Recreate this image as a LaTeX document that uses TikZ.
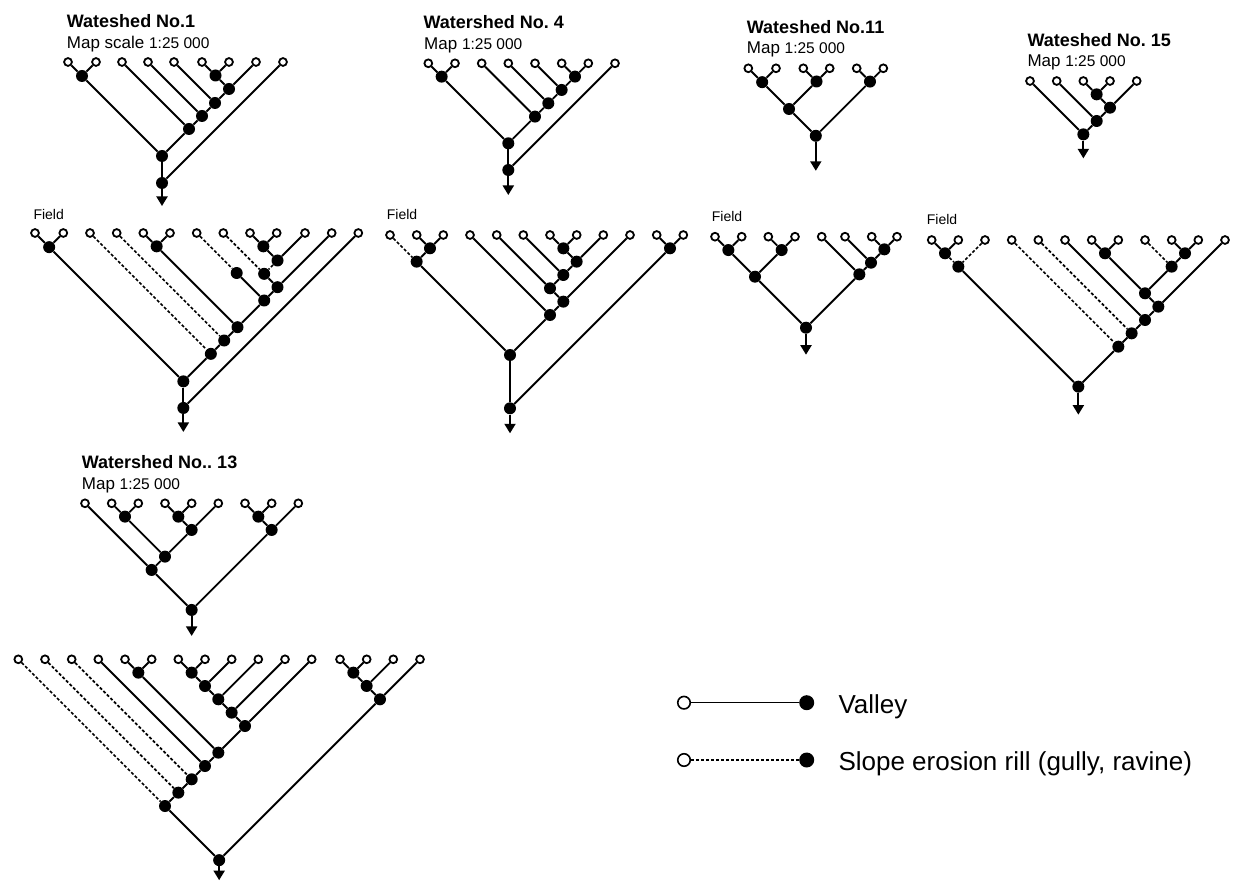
\documentclass[tikz,border=0pt]{standalone}
\usepackage{fontspec}
\setmainfont{Liberation Sans}
\usetikzlibrary{calc,arrows.meta}
\frenchspacing
\tikzset{
  onode/.style={circle,draw,fill=white,line width=1.8pt,inner sep=0pt,minimum size=7.8pt},
  fnode/.style={circle,fill=black,inner sep=0pt,minimum size=12pt},
  vl/.style={line width=1.9pt},
  rl/.style={line width=1.7pt,dash pattern=on 3pt off 2pt},
  arr/.style={line width=1.9pt,-{Triangle[width=11pt,length=9.5pt]}},
  ttl/.style={anchor=base west,inner sep=0pt,font=\fontsize{18}{20}\selectfont\bfseries},
  sub/.style={anchor=base west,inner sep=0pt,font=\fontsize{17}{20}\selectfont},
  fld/.style={anchor=base west,inner sep=0pt,font=\fontsize{14}{16}\selectfont},
  lgt/.style={anchor=base west,inner sep=0pt,font=\fontsize{26}{28}\selectfont},
  lo/.style={circle,draw,fill=white,line width=1.6pt,inner sep=0pt,minimum size=12.5pt},
  lf/.style={circle,fill=black,inner sep=0pt,minimum size=15pt},
  lgl/.style={line width=1.4pt},
  lgd/.style={line width=1.4pt,dash pattern=on 3pt off 2pt},
}
\newcommand\dg[1]{{\fontsize{15.5}{18}\selectfont #1}}
\newcommand\wleaves[3]{\foreach \xx [count=\wi] in {#3} {\node[onode] (#1\wi) at (\xx,#2) {};}}
\newcommand\wjx[5]{%
  \path let \p1=(#2.center), \p2=(#3.center), \n1={((\x2-\x1)+(\y1-\y2))/2} in
    node[fnode] (#1) at ({\x1+\n1},{\y1-\n1}) {};
  \draw[#4] (#2) -- (#1);
  \draw[#5] (#3) -- (#1);}
\newcommand\wjn[3]{\wjx{#1}{#2}{#3}{vl}{vl}}
\newcommand\wvj[3]{%
  \path let \p1=(#2.center), \p2=(#3.center) in
    node[fnode] (#1) at (\x1,{\y2-(\x2-\x1)}) {};
  \draw[vl] (#2) -- (#1);
  \draw[vl] (#3) -- (#1);}
\newcommand\wmd[4]{%
  \path let \p1=(#2.center) in node[fnode] (#1) at ({\x1+#3pt},{\y1-#3pt}) {};
  \draw[#4] (#2) -- (#1);}
\newcommand\wout[3]{%
  \path let \p1=(#2.center) in coordinate (#1) at (\x1,{\y1-#3pt});
  \draw[arr] (#2) -- (#1);}
\begin{document}
\begin{tikzpicture}[x=1pt,y=-1pt]
\useasboundingbox (0,0) rectangle (1233,882);

% ---------- titles ----------
\node[ttl] (t1) at (66.7,28) {Wateshed No.1};
\node[sub] (s1) at (66.7,48.3) {Map scale \dg{1:25 000}};
\node[ttl] (t4) at (423.3,28.3) {Watershed No. 4};
\node[sub] (s4) at (424,49.3) {Map \dg{1:25 000}};
\node[ttl] (t11) at (746.7,33.3) {Wateshed No.11};
\node[sub] (s11) at (746.7,54) {Map \dg{1:25 000}};
\node[ttl] (t15) at (1027.3,46.7) {Wateshed No. 15};
\node[sub] (s15) at (1027.3,66.7) {Map \dg{1:25 000}};
\node[ttl] (t13) at (81.7,468.3) {Watershed No.. 13};
\node[sub] (s13) at (81.7,489) {Map \dg{1:25 000}};

\node[fld] (f1) at (33.3,219.3) {Field};
\node[fld] (f4) at (386.7,220) {Field};
\node[fld] (f11) at (711.7,221.7) {Field};
\node[fld] (f15) at (926.7,224.3) {Field};

% ---------- Watershed 1, map ----------
\wleaves{A}{62}{68,96,122,148,174,202,229,256,283}
\wjn{Aa}{A1}{A2}
\wjn{Ab}{A6}{A7}
\wjn{Ac}{Ab}{A8}
\wjn{Ad}{A5}{Ac}
\wjn{Ae}{A4}{Ad}
\wjn{Af}{A3}{Ae}
\wjn{Ag}{Aa}{Af}
\wvj{Ah}{Ag}{A9}
\wout{Ao}{Ah}{23}

% ---------- Watershed 1, field ----------
\wleaves{B}{233}{35,63.3,90,116.7,143.3,170,196.7,223.3,250,276.7,305,331.7,358.3}
\wjn{Ba}{B1}{B2}
\wjn{Bb}{B5}{B6}
\wjn{Bc}{B9}{B10}
\wjn{Bd}{Bc}{B11}
\wjx{Be}{B8}{Bd}{rl}{rl}
\wjn{Bg}{Be}{B12}
\wmd{Bf}{B7}{40}{rl}
\wjn{Bh}{Bf}{Bg}
\wjn{Bi}{Bb}{Bh}
\wjx{Bj}{B4}{Bi}{rl}{vl}
\wjx{Bk}{B3}{Bj}{rl}{vl}
\wjn{Bl}{Ba}{Bk}
\wvj{Bm}{Bl}{B13}
\wout{Bo}{Bm}{24}

% ---------- Watershed 4, map ----------
\wleaves{C}{63.3}{428.3,455,481.7,508.3,535,561.7,588.3,615}
\wjn{Ca}{C1}{C2}
\wjn{Cb}{C6}{C7}
\wjn{Cc}{C5}{Cb}
\wjn{Cd}{C4}{Cc}
\wjn{Ce}{C3}{Cd}
\wjn{Cf}{Ca}{Ce}
\wvj{Cg}{Cf}{C8}
\wout{Co}{Cg}{25}

% ---------- Watershed 4, field ----------
\wleaves{D}{235}{390,416.7,443.3,470,496.7,523.3,550,576.7,603.3,630,656.7,683.3}
\wjn{Da}{D2}{D3}
\wjx{Db}{D1}{Da}{rl}{vl}
\wjn{Dc}{D7}{D8}
\wjn{Dd}{Dc}{D9}
\wjn{De}{D6}{Dd}
\wjn{Df}{D5}{De}
\wjn{Dg}{Df}{D10}
\wjn{Dh}{D4}{Dg}
\wjn{Di}{Db}{Dh}
\wjn{Dj}{D11}{D12}
\wvj{Dk}{Di}{Dj}
\wout{Do}{Dk}{25}

% ---------- Watershed 11, map ----------
\wleaves{E}{68.3}{748.3,776,803.3,829.7,856.7,883.3}
\wjn{Ea}{E1}{E2}
\wjn{Eb}{E3}{E4}
\wjn{Ec}{Ea}{Eb}
\wjn{Ed}{E5}{E6}
\wjn{Ee}{Ec}{Ed}
\wout{Eo}{Ee}{35}

% ---------- Watershed 11, field ----------
\wleaves{F}{236.7}{715,741.7,768.3,795,821.7,845,871.7,897}
\wjn{Fa}{F1}{F2}
\wjn{Fb}{F3}{F4}
\wjn{Fc}{Fa}{Fb}
\wjn{Fd}{F7}{F8}
\wjn{Fe}{F6}{Fd}
\wjn{Ff}{F5}{Fe}
\wjn{Fg}{Fc}{Ff}
\wout{Fo}{Fg}{27}

% ---------- Watershed 15, map ----------
\wleaves{G}{81}{1030,1056.7,1083.3,1110,1136.7}
\wjn{Ga}{G3}{G4}
\wjn{Gb}{Ga}{G5}
\wjn{Gc}{G2}{Gb}
\wjn{Gd}{G1}{Gc}
\wout{Go}{Gd}{24}

% ---------- Watershed 15, field ----------
\wleaves{H}{240}{931.7,958.3,985,1011.7,1038.3,1065,1091.7,1118.3,1145,1171.7,1198.3,1225}
\wjn{Ha}{H1}{H2}
\wjx{Hb}{Ha}{H3}{rl}{rl}
\wjn{Hc}{H7}{H8}
\wjn{Hd}{H10}{H11}
\wjx{He}{H9}{Hd}{rl}{vl}
\wjn{Hf}{Hc}{He}
\wjn{Hg}{Hf}{H12}
\wjn{Hh}{H6}{Hg}
\wjx{Hi}{H5}{Hh}{rl}{vl}
\wjx{Hj}{H4}{Hi}{rl}{vl}
\wjn{Hk}{Hb}{Hj}
\wout{Ho}{Hk}{28}

% ---------- Watershed 13, map ----------
\wleaves{I}{503.3}{85,111.7,138.3,165,191.7,218.3,245,271.7,298.3}
\wjn{Ia}{I2}{I3}
\wjn{Ib}{I4}{I5}
\wjn{Ic}{Ib}{I6}
\wjn{Id}{Ia}{Ic}
\wjn{Ie}{I1}{Id}
\wjn{If}{I7}{I8}
\wjn{Ig}{If}{I9}
\wjn{Ih}{Ie}{Ig}
\wout{Io}{Ih}{26}

% ---------- Watershed 13, field ----------
\wleaves{K}{659.3}{18.3,45,71.7,98.3,125,151.7,178.3,205,231.7,258.3,285,311.7,340,366.7,393.3,420}
\wjn{Ka}{K5}{K6}
\wjn{Kb}{K7}{K8}
\wjn{Kc}{Kb}{K9}
\wjn{Kd}{Kc}{K10}
\wjn{Ke}{Kd}{K11}
\wjn{Kf}{Ke}{K12}
\wjn{Kg}{Ka}{Kf}
\wjn{Kh}{K4}{Kg}
\wjx{Ki}{K3}{Kh}{rl}{vl}
\wjx{Kj}{K2}{Ki}{rl}{vl}
\wjx{Kk}{K1}{Kj}{rl}{vl}
\wjn{Kl}{K13}{K14}
\wjn{Km}{Kl}{K15}
\wjn{Kn}{Km}{K16}
\wjn{Ko}{Kk}{Kn}
\wout{Kz}{Ko}{20}

% ---------- legend ----------
\node[lo] (lo1) at (684,702.7) {};
\node[lf] (lf1) at (806.7,702.7) {};
\draw[lgl] (lo1) -- (lf1);
\node[lgt] (lt1) at (838.3,713.3) {Valley};
\node[lo] (lo2) at (684,760) {};
\node[lf] (lf2) at (806.7,760) {};
\draw[lgd] (lo2) -- (lf2);
\node[lgt] (lt2) at (838.3,770.5) {Slope erosion rill (gully, ravine)};
\end{tikzpicture}
\end{document}
